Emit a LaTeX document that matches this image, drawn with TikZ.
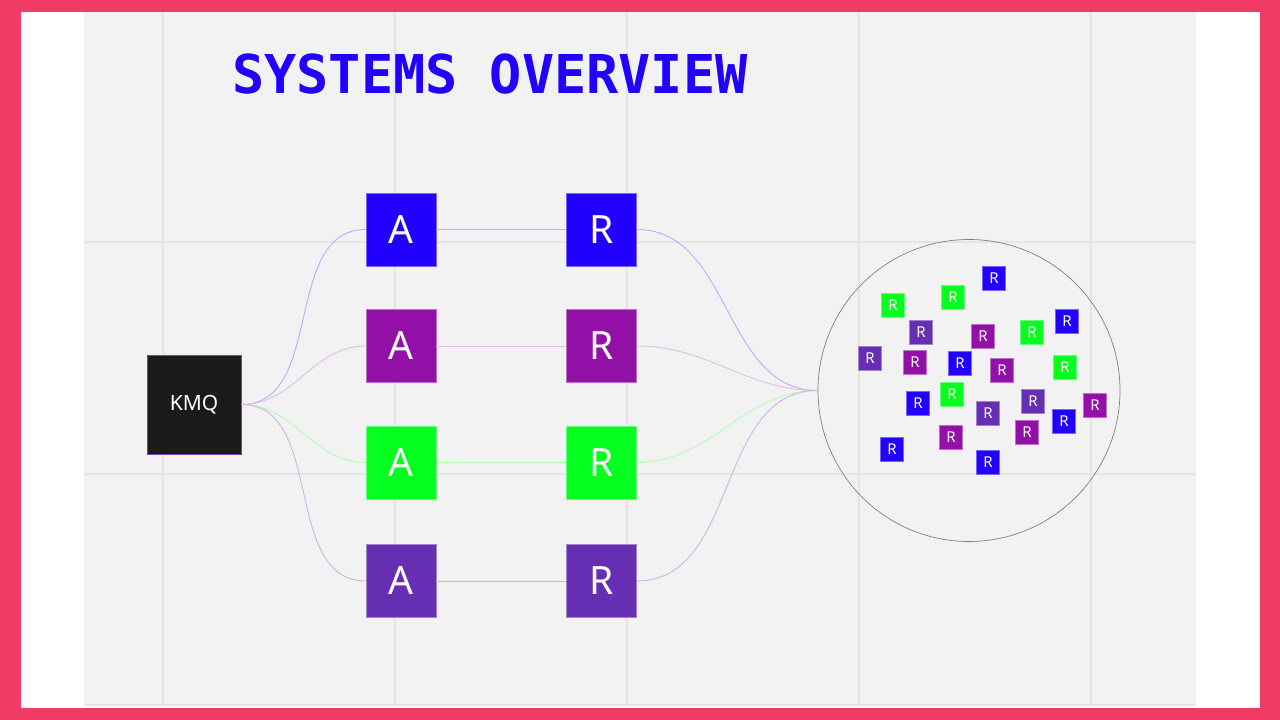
\documentclass[tikz,border=0pt]{standalone}
\usepackage{fontspec}
\usepackage{xcolor}
\usepackage{tikz}
\usetikzlibrary{positioning}
\newfontfamily\labelfont{Noto Sans}
\newfontfamily\titlefont{DejaVu Sans Mono}
\definecolor{framepink}{RGB}{240,60,100}
\definecolor{panelgray}{RGB}{242,242,242}
\definecolor{gridgray}{RGB}{229,229,229}
\definecolor{sysblue}{RGB}{34,0,255}
\definecolor{syspurple}{RGB}{146,16,168}
\definecolor{sysgreen}{RGB}{5,255,30}
\definecolor{sysviolet}{RGB}{102,46,178}
\definecolor{kmqblack}{RGB}{26,26,26}

\begin{document}
\begin{tikzpicture}[
    x=1pt, y=-1pt,
    node distance=43pt and 130pt,
    kmqbox/.style={rectangle, draw=sysviolet!90, line width=0.8pt, fill=kmqblack,
                   minimum width=94pt, minimum height=99pt, inner sep=0pt,
                   text=white, font=\labelfont\fontsize{21}{25}\selectfont},
    bigbox/.style={rectangle, draw=#1!60!white, line width=0.5pt, fill=#1,
                   minimum width=70pt, minimum height=73pt, inner sep=0pt,
                   text=white, font=\labelfont\fontsize{39}{44}\selectfont},
    tinybox/.style={rectangle, draw=#1!60!white, line width=0.4pt, fill=#1,
                    minimum width=23pt, minimum height=24pt, inner sep=0pt,
                    text=white, font=\labelfont\fontsize{15}{18}\selectfont},
    link/.style={line width=0.9pt},
]
\useasboundingbox (0,0) rectangle (1280,720);

% ── Frame and panel ──
\fill[framepink] (0,0) rectangle (1280,720);
\fill[white] (21,12) rectangle (1260,708);
\fill[panelgray] (84,12) rectangle (1196,706);
\draw[gridgray, line width=1.5pt]
  (163,12) -- (163,706) (395,12) -- (395,706) (627,12) -- (627,706)
  (859,12) -- (859,706) (1091,12) -- (1091,706)
  (84,242) -- (1196,242) (84,474) -- (1196,474) (84,705) -- (1196,705);

% ── Title ──
\node[anchor=base west, inner sep=0pt, text=sysblue,
      font=\titlefont\bfseries\fontsize{53.5}{60}\selectfont]
  (title) at (232,93) {SYSTEMS OVERVIEW};

% ── Source ──
\node[kmqbox] (kmq) at (194,404.5) {\raisebox{-2pt}{KMQ}};

% ── A column ──
\node[bigbox=sysblue] (a1) at (401,229.5) {A};
\node[bigbox=syspurple, below=of a1] (a2) {A};
\node[bigbox=sysgreen, below=of a2] (a3) {A};
\node[bigbox=sysviolet, below=45pt of a3] (a4) {A};

% ── R column ──
\node[bigbox=sysblue, right=of a1] (r1) {R};
\node[bigbox=syspurple, right=of a2] (r2) {R};
\node[bigbox=sysgreen, right=of a3] (r3) {R};
\node[bigbox=sysviolet, right=of a4] (r4) {R};

% ── Pool ──
\node[circle, draw=black!50, line width=0.7pt, minimum size=302pt,
      inner sep=0pt] (pool) at (969,390.5) {};

% ── Links ──
\draw[link, sysblue!32] (kmq.east) to[out=0, in=180] (a1.west);
\draw[link, syspurple!28] (kmq.east) to[out=0, in=180] (a2.west);
\draw[link, sysgreen!32] (kmq.east) to[out=0, in=180] (a3.west);
\draw[link, sysviolet!35] (kmq.east) to[out=0, in=180] (a4.west);
\draw[link, sysblue!32] (a1) -- (r1);
\draw[link, syspurple!28] (a2) -- (r2);
\draw[link, sysgreen!32] (a3) -- (r3);
\draw[link, sysviolet!35] (a4) -- (r4);
\draw[link, sysblue!32] (r1.east) to[out=0, in=180] (pool.west);
\draw[link, syspurple!28] (r2.east) to[out=0, in=180] (pool.west);
\draw[link, sysgreen!32] (r3.east) to[out=0, in=180] (pool.west);
\draw[link, sysviolet!35] (r4.east) to[out=0, in=180] (pool.west);

% ── Pool members ──
\node[tinybox=sysblue] (p1) at (994,278) {R};
\node[tinybox=sysgreen] (p2) at (893,305) {R};
\node[tinybox=sysgreen] (p3) at (953,297) {R};
\node[tinybox=sysviolet] (p4) at (921,332) {R};
\node[tinybox=syspurple] (p5) at (983,336) {R};
\node[tinybox=sysgreen] (p6) at (1032,332) {R};
\node[tinybox=sysblue] (p7) at (1067,321) {R};
\node[tinybox=sysviolet] (p8) at (870,358) {R};
\node[tinybox=syspurple] (p9) at (915,362) {R};
\node[tinybox=sysblue] (p10) at (960,363) {R};
\node[tinybox=syspurple] (p11) at (1002,370) {R};
\node[tinybox=sysgreen] (p12) at (1065,367) {R};
\node[tinybox=sysgreen] (p13) at (952,394) {R};
\node[tinybox=sysblue] (p14) at (918,403) {R};
\node[tinybox=sysviolet] (p15) at (988,413) {R};
\node[tinybox=sysviolet] (p16) at (1033,401) {R};
\node[tinybox=syspurple] (p17) at (1095,405) {R};
\node[tinybox=sysblue] (p18) at (1064,421) {R};
\node[tinybox=syspurple] (p19) at (1027,432) {R};
\node[tinybox=syspurple] (p20) at (951,437) {R};
\node[tinybox=sysblue] (p21) at (892,449) {R};
\node[tinybox=sysblue] (p22) at (988,462) {R};

\end{tikzpicture}
\end{document}
